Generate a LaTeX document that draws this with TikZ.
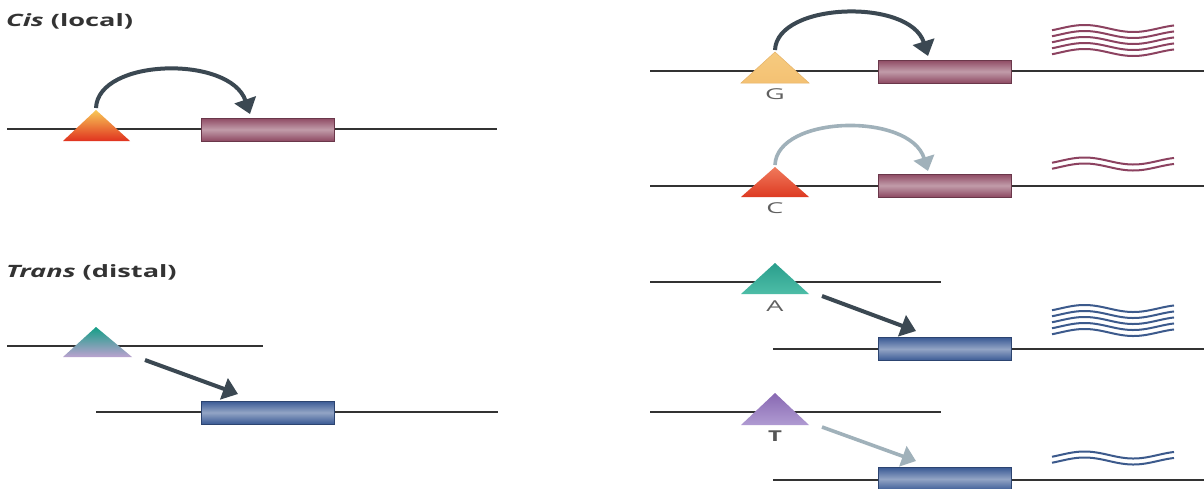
\documentclass[tikz,border=0pt]{standalone}
\usepackage{fontspec}
\setmainfont{Open Sans}
\usetikzlibrary{arrows.meta,calc}
\definecolor{dna}{HTML}{333333}
\definecolor{mar}{HTML}{8E4A63}
\definecolor{blu}{HTML}{3A5A95}
\definecolor{arrD}{HTML}{3B4852}
\definecolor{arrL}{HTML}{A0B1BA}
\definecolor{wmar}{HTML}{8C4260}
\definecolor{wblu}{HTML}{3C5A8C}
\definecolor{head}{HTML}{333333}
\definecolor{lab}{HTML}{606060}
\definecolor{labT}{HTML}{555555}
\definecolor{cisA}{HTML}{F8C957}
\definecolor{cisB}{HTML}{F08A35}
\definecolor{cisC}{HTML}{E0321F}
\definecolor{trA}{HTML}{139E86}
\definecolor{trB}{HTML}{BBA2CF}
\definecolor{gA}{HTML}{F6CB7F}
\definecolor{gB}{HTML}{F4C173}
\definecolor{gE}{HTML}{E5B267}
\definecolor{cA}{HTML}{F07A5C}
\definecolor{cB}{HTML}{DD3A22}
\definecolor{aA}{HTML}{2A9E8C}
\definecolor{aB}{HTML}{4DBDA7}
\definecolor{tA}{HTML}{8868B2}
\definecolor{tB}{HTML}{B09BD2}
\newcommand{\mywave}[2]{%
  \draw[#2, line width=2pt] plot[domain=-30:420, samples=60, smooth, variable=\t]
    ({1052+(\t+30)*0.2711}, {#1-3.5*sin(\t)});}
\begin{document}
\begin{tikzpicture}[x=1pt,y=-1pt,
  dnaline/.style={draw=dna, line width=1.8pt},
  genebox/.style={draw=#1!75!black, line width=0.6pt, minimum width=133pt,
    minimum height=23pt, inner sep=0pt, top color=#1, bottom color=#1,
    middle color=#1!55!white},
  headtxt/.style={font=\fontsize{17}{20}\selectfont\bfseries, text=head,
    anchor=base west, inner sep=0pt},
  basetxt/.style={font=\fontsize{15}{17}\selectfont, text=lab, inner sep=0pt},
  darkarrow/.style={draw=arrD, line width=4pt, -{Triangle[width=22pt,length=15pt]}},
  lightarrow/.style={draw=arrL, line width=3.6pt, -{Triangle[width=21pt,length=14pt]}}
]
\useasboundingbox (0,0) rectangle (1204,488);
\clip (0,0) rectangle (1204,488);
\fill[white] (0,0) rectangle (1204,488);

% ---------- headings ----------
\node[headtxt] (cishead) at (6,26) {\scalebox{1.6}[1]{\itshape Cis \upshape(local)}};
\node[headtxt] (transhead) at (6,277) {\scalebox{1.6}[1]{\itshape Trans \upshape(distal)}};

% ---------- DNA lines ----------
\draw[dnaline] (7,129) -- (497,129);
\draw[dnaline] (7,346) -- (263,346);
\draw[dnaline] (96,412) -- (498,412);
\draw[dnaline] (650,71) -- (1204,71);
\draw[dnaline] (650,186) -- (1204,186);
\draw[dnaline] (650,282) -- (941,282);
\draw[dnaline] (773,349) -- (1204,349);
\draw[dnaline] (650,412) -- (941,412);
\draw[dnaline] (773,480) -- (1204,480);

% ---------- genes ----------
\node[genebox=mar] (cisgene) at (267.5,129.5) {};
\node[genebox=blu] (transgene) at (267.5,412.5) {};
\node[genebox=mar] (ggene) at (944.5,71.5) {};
\node[genebox=mar] (cgene) at (944.5,185.5) {};
\node[genebox=blu] (agene) at (944.5,349) {};
\node[genebox=blu] (tgene) at (944.5,479) {};

% ---------- variant triangles ----------
\shade[top color=cisA, middle color=cisB, bottom color=cisC]
  (63,141) -- (130,141) -- (96,110) -- cycle;
\coordinate (cisapex) at (96,108);
\shade[top color=trA, bottom color=trB]
  (63,357) -- (132,357) -- (96,327) -- cycle;
\coordinate (transfoot) at (145,360);

\shade[draw=gE, line width=0.5pt, top color=gA, bottom color=gB]
  (741,83) -- (809,83) -- (775,52) -- cycle;
\coordinate (gapex) at (775,50);
\shade[top color=cA, bottom color=cB]
  (741,197) -- (809,197) -- (775,167) -- cycle;
\coordinate (capex) at (775,165);
\shade[top color=aA, bottom color=aB]
  (741,294) -- (809,294) -- (775,263) -- cycle;
\coordinate (afoot) at (822,296);
\shade[top color=tA, bottom color=tB]
  (741,425) -- (809,425) -- (775,393) -- cycle;
\coordinate (tfoot) at (822,427);

% ---------- base labels ----------
\node[basetxt] (glab) at (775,94) {\scalebox{1.8}[1]{G}};
\node[basetxt] (clab) at (775,208) {\scalebox{1.8}[1]{C}};
\node[basetxt] (alab) at (775,306) {\scalebox{1.8}[1]{A}};
\node[basetxt, text=labT] (tlab) at (775,436) {\scalebox{1.6}[1]{\bfseries T}};

% ---------- arrow tips ----------
\coordinate (cistip) at (250,114);
\coordinate (transtip) at (238,394);
\coordinate (gtip) at (928,56);
\coordinate (ctip) at (928,171);
\coordinate (atip) at (916,331);
\coordinate (ttip) at (916,461);

% ---------- connectors ----------
\draw[darkarrow] (cisapex) .. controls (98,58) and (230,55) .. (cistip);
\draw[darkarrow] (transfoot) -- (transtip);
\draw[darkarrow] (gapex) .. controls (777,2) and (910,-2) .. (gtip);
\draw[lightarrow] (capex) .. controls (777,115) and (910,112) .. (ctip);
\draw[darkarrow] (afoot) -- (atip);
\draw[lightarrow] (tfoot) -- (ttip);

% ---------- transcripts ----------
\foreach \yy in {28.5,34.5,40.5,46.5,52.5} {\mywave{\yy}{wmar}}
\foreach \yy in {161,167} {\mywave{\yy}{wmar}}
\foreach \yy in {308.5,314.5,320.5,326.5,332.5} {\mywave{\yy}{wblu}}
\foreach \yy in {455,461} {\mywave{\yy}{wblu}}
\end{tikzpicture}
\end{document}
